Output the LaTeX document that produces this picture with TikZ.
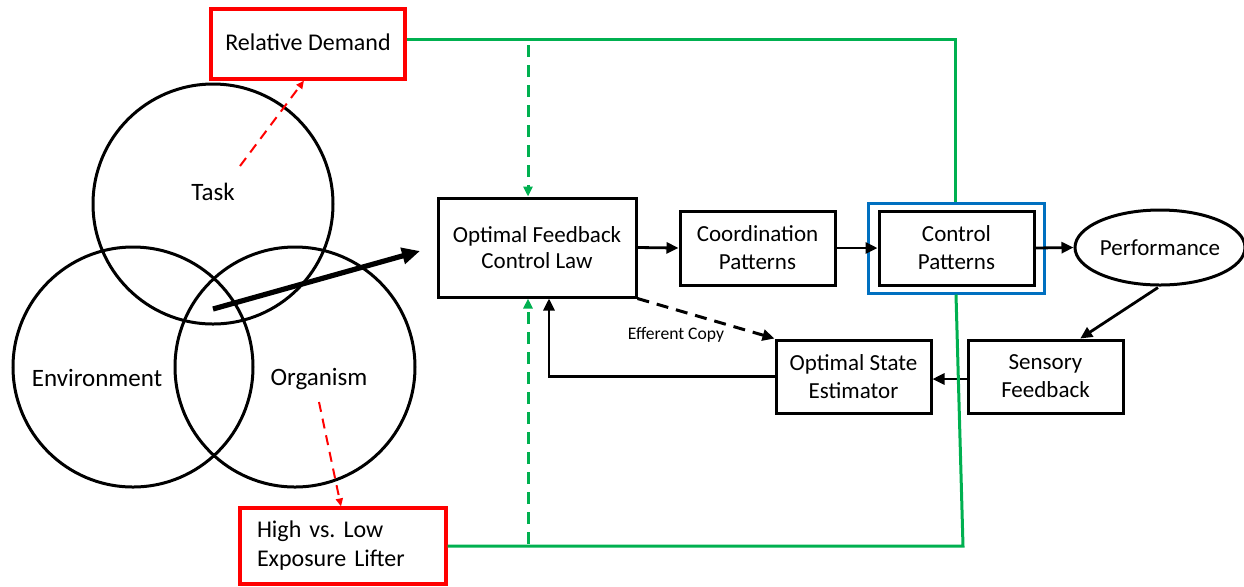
\documentclass[tikz,border=0pt]{standalone}
\usepackage{fontspec}
\setmainfont{Carlito}
\frenchspacing
\usetikzlibrary{arrows.meta,calc,shapes.geometric}
\definecolor{offgreen}{RGB}{0,176,80}
\definecolor{offblue}{RGB}{0,112,192}
\definecolor{offred}{RGB}{255,0,0}
\tikzset{
  flowbox/.style={draw=black, line width=1.5pt, rectangle, inner sep=0pt, align=center,
    minimum width=77.5pt, minimum height=37pt, font=\fontsize{11.5pt}{14pt}\selectfont},
  redbox/.style={draw=offred, line width=1.6pt, rectangle, inner sep=0pt,
    font=\fontsize{12pt}{14.5pt}\selectfont},
  venn/.style={draw=black, line width=1.5pt, circle, inner sep=0pt, minimum size=120pt},
  vennlabel/.style={font=\fontsize{12.5pt}{15pt}\selectfont, inner sep=0pt},
  flowarrow/.style={draw=black, line width=1.4pt, -{Triangle[length=6pt,width=5.5pt]}},
  effarrow/.style={draw=black, line width=1.5pt, dash pattern=on 6pt off 4pt, -{Triangle[length=6pt,width=5.5pt]}},
  greenline/.style={draw=offgreen, line width=1.5pt},
  greendash/.style={draw=offgreen, line width=1.5pt, dash pattern=on 6pt off 4pt, -{Triangle[length=5pt,width=4.5pt]}},
  reddash/.style={draw=offred, line width=1pt, dash pattern=on 5pt off 3.5pt, -{Triangle[length=4pt,width=3.5pt]}},
}
\begin{document}
\begin{tikzpicture}[x=0.5pt,y=-0.5pt]
\useasboundingbox (0,0) rectangle (1244,586);
% Venn circles
\node[venn] (task) at (213,204) {};
\node[venn] (env) at (133,367) {};
\node[venn] (org) at (295,367) {};
\node[vennlabel] (tasklbl) at (213,192) {Task};
\node[vennlabel] (envlbl) at (97,378) {Environment};
\node[vennlabel] (orglbl) at (319,379) {Organism};
% red boxes
\node[redbox, minimum width=97pt, minimum height=35pt] (rd) at (308,44) {\raisebox{2pt}{Relative Demand}};
\node[redbox, minimum width=103pt, minimum height=38pt, text width=86pt, inner xsep=8.5pt, align=left] (hl) at (343,546) {High vs. Low\\Exposure Lifter};
% flow boxes
\node[flowbox, minimum width=99pt, minimum height=49.5pt] (ofcl) at (537,247.5) {\raisebox{-1pt}{Optimal Feedback}\\Control Law};
\node[flowbox] (coord) at (757.5,248) {Coordination\\Patterns};
\node[draw=offblue, line width=1.5pt, rectangle, minimum width=88pt, minimum height=45pt, inner sep=0pt] (blue) at (956,248) {};
\node[flowbox] (ctrl) at (956.5,248) {Control\\Patterns};
\node[draw=black, line width=1.5pt, ellipse, inner sep=0pt, minimum width=82.5pt, minimum height=37.5pt, font=\fontsize{11.5pt}{14pt}\selectfont] (perf) at (1160,247.5) {Performance};
\node[flowbox, minimum height=36.5pt] (sf) at (1045.5,376.5) {Sensory\\Feedback};
\node[flowbox, minimum height=36.5pt] (ose) at (853.5,376.5) {Optimal State\\Estimator};
% coordinates
\coordinate (vstart) at (213,309);
\coordinate (vend) at (420,251);
\coordinate (tk1) at (240,166);
\coordinate (og1) at (319,402);
\coordinate (gtr) at (955,39);
\coordinate (gdt) at (528,39);
\coordinate (gbr) at (963,546);
\coordinate (gdb) at (528,546);
% thick arrow
\draw[line width=2.6pt, -{Triangle[length=9pt,width=8pt]}] (vstart) -- (vend);
% red dashed
\draw[reddash] (tk1) -- ($(rd.south)+(-4,0)$);
\draw[reddash] (og1) -- ($(hl.north)+(-2,0)$);
% flow arrows
\draw[flowarrow] (ofcl.east) -- (coord.west);
\draw[flowarrow] (coord.east) -- (ctrl.west);
\draw[flowarrow] (ctrl.east) -- (perf.west);
\draw[flowarrow] ($(perf.south)+(-2,1)$) -- ($(sf.north west)!0.72!(sf.north east)$);
\draw[flowarrow] ($(sf.west)+(0,2.5)$) -- ($(ose.east)+(0,2.5)$);
\draw[flowarrow] (ose.west) -| ($(ofcl.south)+(12,0)$);
\draw[effarrow] (ofcl.south east) -- (ose.north west);
\node[font=\fontsize{8.8pt}{10pt}\selectfont, inner sep=0pt] (eff) at (676,335) {Efferent Copy};
% green lines
\draw[greenline] (rd.east |- gtr) -- (gtr) -- (gtr |- blue.north);
\draw[greenline] (hl.east |- gbr) -- (gbr) -- (blue.south);
\draw[greendash] ($(gdt)+(0,6)$) -- (gdt |- ofcl.north);
\draw[greendash] ($(gdb)+(0,-2)$) -- (gdb |- ofcl.south);
\end{tikzpicture}
\end{document}
